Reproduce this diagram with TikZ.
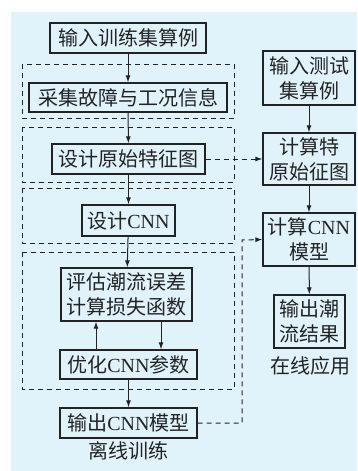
\documentclass[tikz,border=0pt]{standalone}
\usepackage{fontspec}
\usepackage{tikz}
\usetikzlibrary{arrows.meta}
\newfontfamily\cjk{Noto Sans CJK SC}
\newfontfamily\latn{Liberation Serif}
\newcommand{\CNN}{{\latn CNN}}
\definecolor{bgblue}{RGB}{224,242,250}
\definecolor{ink}{RGB}{35,35,35}

\begin{document}
\begin{tikzpicture}[x=1pt,y=-1pt, >={Latex[length=7pt,width=5pt]}]
      \useasboundingbox (0,0) rectangle (357,471);
      \fill[bgblue] (11,12) rectangle (357,471);
      \tikzset{every node/.style={font=\cjk\fontsize{20}{25}\selectfont, text=ink, align=center}}

      % offline training
      \node (train) at (128,38) [draw=ink, line width=1.3pt, minimum width=156pt, minimum height=30pt, inner sep=0pt] {输入训练集算例};
      \node (collect) at (128,97.5) [draw=ink, line width=1.3pt, minimum width=198pt, minimum height=29pt, inner sep=0pt] {采集故障与工况信息};
      \node (feature) at (128.5,159) [draw=ink, line width=1.3pt, minimum width=153pt, minimum height=30pt, inner sep=0pt] {设计原始特征图};
      \node (design) at (128.5,220.5) [draw=ink, line width=1.3pt, minimum width=93pt, minimum height=31pt, inner sep=0pt] {设计\CNN};
      \node (eval) at (126.5,294.5) [draw=ink, line width=1.3pt, minimum width=131pt, minimum height=53pt, inner sep=0pt] {评估潮流误差\\计算损失函数};
      \node (optim) at (128.5,364.5) [draw=ink, line width=1.3pt, minimum width=137pt, minimum height=29pt, inner sep=0pt] {优化\CNN 参数};
      \node (output) at (128.5,423) [draw=ink, line width=1.3pt, minimum width=137pt, minimum height=30pt, inner sep=0pt] {输出\CNN 模型};
      \node (offline) at (128,451) {离线训练};

      \draw[ink, line width=1pt, dash pattern=on 5pt off 4pt] (22,64) rectangle (234,118);
      \draw[ink, line width=1pt, dash pattern=on 5pt off 4pt] (22,127) rectangle (234,182);
      \draw[ink, line width=1pt, dash pattern=on 5pt off 4pt] (22,188) rectangle (234,243);
      \draw[ink, line width=1pt, dash pattern=on 5pt off 4pt] (22,252) rectangle (234,389);

      \draw[ink, line width=1pt, ->] (train) to (collect);
      \draw[ink, line width=1pt, ->] (collect) to (feature);
      \draw[ink, line width=1pt, ->] (feature) to (design);
      \draw[ink, line width=1pt, ->] (design) to (eval);
      \draw[ink, line width=1pt, ->] (optim.north -| 96,0) to (eval.south -| 96,0);
      \draw[ink, line width=1pt, ->] (eval.south -| 161,0) to (optim.north -| 161,0);
      \draw[ink, line width=1pt, ->] (optim) to (output);

      % online application
      \node (test) at (309,78) [draw=ink, line width=1.3pt, minimum width=92pt, minimum height=54pt, inner sep=0pt] {输入测试\\集算例};
      \node (calcfeat) at (309,159) [draw=ink, line width=1.3pt, minimum width=92pt, minimum height=52pt, inner sep=0pt] {计算特\\原始征图};
      \node (calccnn) at (309,239.5) [draw=ink, line width=1.3pt, minimum width=92pt, minimum height=53pt, inner sep=0pt] {计算\CNN\\模型};
      \node (result) at (309.5,321.5) [draw=ink, line width=1.3pt, minimum width=71pt, minimum height=53pt, inner sep=0pt] {输出潮\\流结果};
      \node (online) at (310,366) {在线应用};

      \draw[ink, line width=1pt, ->] (test) to (calcfeat);
      \draw[ink, line width=1pt, ->] (calcfeat) to (calccnn);
      \draw[ink, line width=1pt, ->] (calccnn) to (result);

      \coordinate (bend) at (242,240);
      \draw[ink, line width=1pt, dash pattern=on 5pt off 4pt, ->] (feature) to (calcfeat);
      \draw[ink, line width=1pt, dash pattern=on 5pt off 4pt, ->] (output.east) -| (bend) to (calccnn.west);
\end{tikzpicture}
\end{document}
